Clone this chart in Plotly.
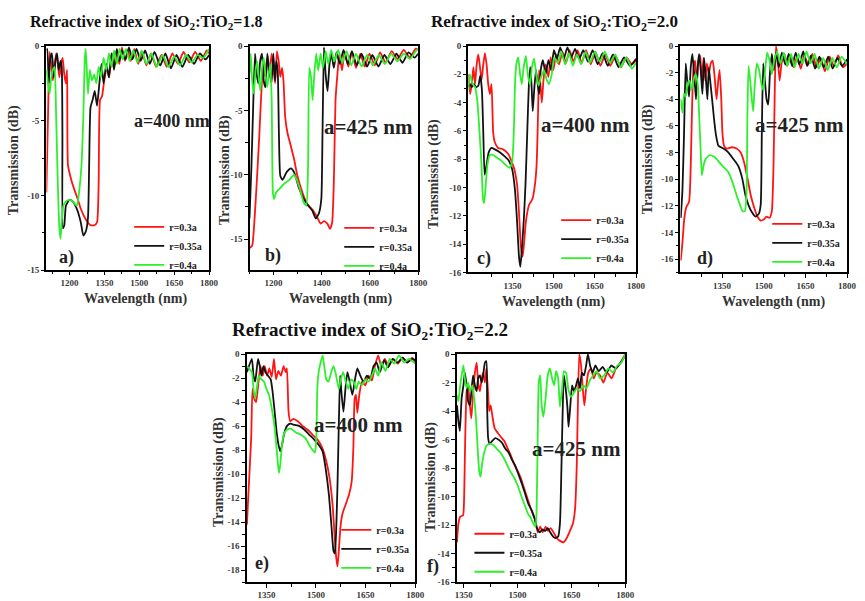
import plotly.graph_objects as go

W, H = 865, 601
FONT = "Liberation Serif, Times New Roman, serif"

# ---------------- data (wavelength nm, transmission dB) ----------------
series_names = ["r=0.3a", "r=0.35a", "r=0.4a"]
series_colors = ["#ff1414", "#121212", "#2cf02c"]

# (a) SiO2:TiO2 = 1.8, a = 400 nm
a_red = [(1100,-9.8),(1107,-4.7),(1114,-0.4),(1121,-1.2),(1128,-2.3),(1135,-1.4),(1142,-0.5),(1149,-1.2),(1156,-2.1),(1163,-1.2),(1170,-0.8),(1177,-1.9),(1184,-2.5),(1189,-1.6),(1193,-8.0),(1206,-8.9),(1220,-9.6),(1234,-10.2),(1248,-10.9),(1269,-11.6),(1290,-12.0),(1307,-12.0),(1318,-11.8),(1325,-9.1),(1331,-3.6),(1339,-3.4),(1349,-2.3),(1360,-1.4),(1370,-2.1),(1382,-0.5),(1391,-1.4),(1403,-0.3),(1414,-1.2),(1425,-0.1),(1438,-1.0),(1450,-0.3),(1463,-1.0),(1478,-0.2),(1495,-1.2),(1512,-0.4),(1530,-1.3),(1550,-0.5),(1572,-1.4),(1595,-0.6),(1618,-1.4),(1642,-0.5),(1666,-1.2),(1690,-0.4),(1715,-1.1),(1740,-0.4),(1765,-1.0),(1790,-0.3),(1800,-0.5)]
a_black = [(1100,-0.3),(1104,-0.2),(1110,-2.5),(1117,-0.8),(1124,-0.5),(1132,-2.1),(1139,-1.0),(1146,-0.5),(1153,-1.6),(1161,-1.0),(1166,-1.4),(1169,-5.9),(1171,-12.2),(1177,-12.0),(1184,-10.7),(1199,-10.3),(1213,-10.4),(1231,-10.9),(1248,-11.8),(1259,-12.7),(1270,-12.4),(1279,-11.5),(1284,-8.0),(1290,-4.1),(1299,-3.6),(1308,-3.0),(1318,-4.0),(1328,-2.5),(1337,-1.2),(1346,-2.5),(1358,-1.2),(1369,-2.1),(1380,-0.5),(1391,-1.6),(1403,-0.2),(1414,-1.0),(1425,-0.3),(1440,-0.9),(1455,-0.1),(1470,-0.9),(1488,-0.2),(1505,-1.0),(1525,-0.3),(1545,-1.2),(1565,-0.4),(1590,-1.3),(1612,-0.5),(1636,-1.5),(1660,-0.6),(1685,-1.4),(1710,-0.6),(1735,-1.2),(1760,-0.5),(1785,-0.9),(1800,-0.6)]
a_green = [(1100,-1.6),(1107,-2.5),(1114,-3.2),(1121,-2.1),(1128,-1.6),(1135,-1.4),(1142,-4.7),(1149,-9.1),(1156,-12.2),(1161,-12.9),(1166,-11.8),(1173,-10.7),(1184,-10.4),(1199,-10.3),(1213,-10.4),(1231,-10.7),(1242,-9.6),(1251,-8.0),(1259,-4.7),(1265,-1.0),(1269,-0.2),(1273,-1.2),(1279,-3.2),(1287,-1.6),(1296,-2.3),(1306,-1.9),(1315,-2.5),(1325,-1.4),(1335,-2.1),(1346,-0.8),(1358,-1.6),(1369,-0.5),(1380,-1.4),(1391,-0.3),(1403,-1.2),(1415,-0.2),(1428,-0.9),(1442,-0.2),(1458,-1.0),(1474,-0.3),(1492,-1.1),(1510,-0.3),(1530,-1.2),(1552,-0.5),(1575,-1.4),(1600,-0.6),(1625,-1.4),(1650,-0.7),(1675,-1.3),(1700,-0.6),(1725,-1.1),(1750,-0.6),(1775,-0.8),(1800,-0.2)]

# (b) SiO2:TiO2 = 1.8, a = 425 nm
b_red = [(1100,-15.7),(1111,-15.5),(1121,-13.4),(1130,-10.6),(1141,-6.8),(1151,-2.9),(1158,-1.4),(1165,-2.4),(1173,-0.9),(1182,-2.2),(1192,-0.6),(1199,-1.7),(1206,-2.9),(1214,-0.4),(1221,-1.2),(1228,-2.4),(1235,-1.7),(1241,-2.7),(1248,-5.5),(1258,-6.8),(1272,-7.8),(1285,-8.8),(1299,-10.1),(1320,-11.4),(1340,-12.3),(1361,-12.7),(1381,-13.3),(1395,-13.8),(1409,-13.6),(1423,-13.8),(1434,-14.2),(1443,-13.7),(1450,-10.6),(1457,-4.2),(1464,-2.4),(1473,-0.6),(1484,-1.9),(1495,-0.4),(1510,-1.6),(1525,-0.5),(1542,-1.7),(1560,-0.6),(1578,-1.6),(1598,-0.6),(1620,-1.5),(1642,-0.5),(1665,-1.3),(1690,-0.4),(1715,-1.0),(1740,-0.3),(1765,-0.9),(1790,-0.2),(1800,-0.3)]
b_black = [(1100,-13.4),(1108,-9.3),(1116,-4.2),(1123,-0.6),(1130,-2.2),(1137,-2.9),(1144,-1.2),(1152,-0.6),(1159,-2.7),(1166,-3.2),(1174,-0.6),(1182,-1.9),(1191,-2.9),(1199,-0.6),(1206,-2.7),(1211,-1.2),(1217,-1.9),(1222,-6.8),(1228,-10.1),(1237,-10.4),(1254,-9.8),(1272,-9.5),(1285,-9.8),(1303,-10.9),(1326,-11.9),(1344,-12.4),(1361,-12.8),(1375,-13.4),(1388,-13.0),(1398,-11.9),(1403,-6.8),(1409,-0.1),(1416,-2.2),(1424,-3.5),(1432,-1.4),(1440,-0.6),(1450,-1.7),(1461,-0.5),(1475,-1.4),(1490,-0.3),(1508,-1.4),(1525,-0.4),(1545,-1.5),(1565,-0.6),(1588,-1.6),(1610,-0.7),(1635,-1.6),(1660,-0.7),(1685,-1.4),(1710,-0.6),(1735,-1.3),(1760,-0.5),(1785,-0.9),(1800,-0.6)]
b_green = [(1100,-2.2),(1105,-0.6),(1111,-2.7),(1118,-3.7),(1125,-1.9),(1132,-1.2),(1138,-2.4),(1145,-3.5),(1152,-1.7),(1159,-0.9),(1166,-2.2),(1173,-3.2),(1180,-2.2),(1186,-1.4),(1192,-4.2),(1197,-11.4),(1202,-11.9),(1210,-11.4),(1224,-11.1),(1244,-10.7),(1265,-10.4),(1285,-10.0),(1296,-10.4),(1309,-11.1),(1324,-12.1),(1336,-12.4),(1343,-9.3),(1348,-1.7),(1355,-2.4),(1362,-4.2),(1369,-2.2),(1377,-0.6),(1385,-1.9),(1395,-0.6),(1405,-1.7),(1416,-0.4),(1427,-1.4),(1439,-0.3),(1452,-1.2),(1468,-0.3),(1485,-1.3),(1503,-0.4),(1522,-1.5),(1542,-0.6),(1565,-1.6),(1588,-0.7),(1612,-1.5),(1637,-0.7),(1662,-1.4),(1688,-0.6),(1714,-1.2),(1740,-0.6),(1766,-1.0),(1790,-0.4),(1800,-0.2)]

# (c) SiO2:TiO2 = 2.0, a = 400 nm
c_red = [(1190,-2.0),(1196,-3.4),(1202,-2.7),(1208,-1.5),(1214,-2.7),(1220,-1.3),(1226,-0.6),(1232,-1.5),(1238,-2.4),(1244,-1.3),(1250,-0.5),(1256,-1.3),(1262,-2.7),(1268,-3.4),(1274,-2.7),(1280,-6.1),(1286,-6.8),(1298,-7.2),(1316,-7.3),(1334,-7.6),(1346,-8.1),(1357,-8.7),(1367,-9.8),(1375,-12.1),(1381,-14.2),(1387,-14.9),(1393,-13.8),(1399,-12.4),(1411,-11.2),(1423,-10.8),(1432,-9.8),(1438,-8.4),(1443,-5.0),(1447,-1.7),(1452,-2.7),(1457,-4.0),(1463,-2.4),(1471,-1.3),(1481,-2.2),(1489,-0.8),(1499,-1.7),(1509,-0.6),(1520,-1.3),(1532,-0.4),(1545,-1.2),(1558,-0.3),(1572,-1.1),(1587,-0.3),(1602,-1.2),(1618,-0.3),(1635,-1.3),(1652,-0.4),(1670,-1.4),(1688,-0.6),(1706,-1.4),(1725,-0.7),(1745,-1.5),(1765,-0.8),(1785,-1.3),(1800,-1.0)]
c_black = [(1190,-2.9),(1196,-2.7),(1202,-2.9),(1210,-2.7),(1218,-2.9),(1226,-2.8),(1233,-2.1),(1239,-3.1),(1244,-6.1),(1249,-9.1),(1256,-8.4),(1264,-7.5),(1274,-7.2),(1286,-7.3),(1304,-7.5),(1322,-7.8),(1337,-8.1),(1349,-8.7),(1359,-10.1),(1367,-12.4),(1374,-14.9),(1379,-15.6),(1385,-14.2),(1392,-12.1),(1398,-9.6),(1404,-6.1),(1410,-2.7),(1415,-1.5),(1420,-2.9),(1424,-4.6),(1430,-2.9),(1436,-1.7),(1442,-2.7),(1447,-3.4),(1453,-1.7),(1461,-1.0),(1471,-2.0),(1481,-1.0),(1491,-1.7),(1501,-0.3),(1512,-0.9),(1524,-0.1),(1537,-0.9),(1550,-0.1),(1564,-0.8),(1578,-0.2),(1593,-0.9),(1608,-0.3),(1625,-1.1),(1642,-0.3),(1660,-1.3),(1678,-0.5),(1697,-1.4),(1716,-0.6),(1736,-1.5),(1756,-0.8),(1778,-1.4),(1800,-0.9)]
c_green = [(1190,-3.1),(1194,-2.0),(1198,-2.2),(1206,-2.7),(1214,-2.9),(1222,-3.8),(1229,-5.7),(1237,-8.2),(1243,-10.8),(1247,-11.1),(1252,-10.1),(1259,-8.4),(1268,-7.7),(1280,-7.7),(1294,-7.9),(1310,-8.1),(1325,-8.4),(1340,-8.6),(1349,-8.2),(1355,-6.1),(1360,-2.4),(1365,-1.2),(1371,-0.8),(1378,-2.0),(1384,-2.7),(1391,-1.5),(1399,-0.7),(1406,-2.0),(1414,-2.7),(1421,-1.5),(1429,-0.9),(1438,-2.2),(1445,-2.8),(1454,-2.2),(1465,-1.7),(1475,-2.4),(1483,-2.7),(1493,-2.0),(1502,-0.8),(1515,-1.2),(1528,-0.4),(1542,-1.3),(1556,-0.5),(1570,-1.4),(1585,-0.6),(1600,-1.3),(1616,-0.4),(1632,-1.2),(1650,-0.4),(1668,-1.1),(1686,-0.4),(1705,-1.2),(1724,-0.6),(1744,-1.5),(1765,-0.8),(1785,-1.6),(1800,-1.2)]

# (d) SiO2:TiO2 = 2.0, a = 425 nm
d_red = [(1201,-16.1),(1207,-14.8),(1214,-12.9),(1221,-12.1),(1231,-11.7),(1237,-9.0),(1241,-5.3),(1247,-1.6),(1253,-1.1),(1259,-2.8),(1265,-1.1),(1271,-0.7),(1277,-2.6),(1283,-0.9),(1289,-2.6),(1295,-1.3),(1302,-2.1),(1309,-1.3),(1316,-1.1),(1323,-2.3),(1330,-4.0),(1336,-2.6),(1341,-1.8),(1347,-4.0),(1351,-6.5),(1357,-7.5),(1367,-7.7),(1385,-7.6),(1402,-7.7),(1417,-8.0),(1430,-8.8),(1441,-9.9),(1453,-11.2),(1465,-12.1),(1477,-12.8),(1489,-13.1),(1501,-13.0),(1510,-12.8),(1521,-12.9),(1529,-12.4),(1535,-9.0),(1540,-2.8),(1544,0.0),(1550,-0.9),(1557,-2.6),(1564,-1.3),(1574,-0.6),(1584,-1.5),(1595,-0.7),(1607,-1.6),(1620,-0.8),(1633,-1.7),(1646,-0.7),(1660,-1.4),(1675,-0.6),(1690,-1.6),(1705,-0.9),(1720,-1.9),(1737,-0.8),(1752,-1.5),(1768,-0.7),(1785,-1.6),(1800,-1.3)]
d_black = [(1201,-12.9),(1207,-10.9),(1213,-6.5),(1219,-1.3),(1225,-2.8),(1231,-3.8),(1237,-1.6),(1243,-0.6),(1250,-2.3),(1256,-4.0),(1262,-1.6),(1267,-0.6),(1273,-1.8),(1279,-3.6),(1285,-0.9),(1291,-2.3),(1297,-4.0),(1302,-1.6),(1308,-2.8),(1314,-4.0),(1321,-5.5),(1328,-6.7),(1337,-7.5),(1355,-7.7),(1373,-8.0),(1391,-8.5),(1408,-9.0),(1422,-9.9),(1434,-11.2),(1446,-12.0),(1458,-12.5),(1470,-12.8),(1482,-12.6),(1489,-11.9),(1493,-6.5),(1498,-1.3),(1504,-2.6),(1510,-4.0),(1516,-4.4),(1522,-2.1),(1529,-0.6),(1536,-1.8),(1544,-0.5),(1554,-1.6),(1565,-0.5),(1578,-1.4),(1590,-0.6),(1602,-1.5),(1615,-0.5),(1628,-1.4),(1642,-0.4),(1656,-1.5),(1670,-0.7),(1685,-1.7),(1700,-0.8),(1716,-1.6),(1732,-0.8),(1748,-1.7),(1765,-0.9),(1782,-1.5),(1800,-1.0)]
d_green = [(1201,-4.0),(1207,-5.0),(1213,-3.6),(1219,-3.8),(1226,-2.8),(1233,-2.6),(1240,-3.3),(1247,-2.6),(1254,-2.1),(1262,-2.8),(1267,-5.0),(1272,-7.5),(1277,-9.7),(1283,-9.0),(1290,-8.5),(1304,-8.2),(1320,-8.3),(1335,-8.6),(1351,-9.0),(1370,-9.4),(1387,-10.2),(1402,-11.2),(1414,-11.9),(1424,-12.4),(1432,-12.4),(1438,-10.9),(1441,-5.3),(1445,-1.5),(1451,-2.6),(1457,-4.0),(1462,-4.9),(1467,-3.1),(1475,-1.3),(1483,-1.8),(1491,-2.8),(1498,-3.3),(1505,-1.8),(1512,-0.5),(1521,-1.1),(1529,-2.1),(1538,-1.1),(1548,-0.4),(1560,-1.3),(1572,-0.5),(1585,-1.5),(1598,-0.6),(1611,-1.6),(1625,-0.6),(1640,-1.3),(1654,-0.4),(1668,-1.3),(1683,-0.6),(1698,-1.7),(1714,-0.9),(1730,-1.8),(1747,-0.9),(1763,-1.6),(1780,-0.8),(1800,-1.4)]

# (e) SiO2:TiO2 = 2.2, a = 400 nm
e_red = [(1291,-14.2),(1304,-7.0),(1308,-2.9),(1313,-3.7),(1319,-4.0),(1325,-2.6),(1332,-1.0),(1339,-1.8),(1345,-1.0),(1352,-1.8),(1359,-1.2),(1366,-1.9),(1373,-0.4),(1379,-2.1),(1386,-1.4),(1394,-1.8),(1402,-1.0),(1408,-1.5),(1412,-1.2),(1417,-4.8),(1422,-5.6),(1431,-5.4),(1445,-5.6),(1460,-6.0),(1475,-6.3),(1489,-6.7),(1504,-7.1),(1519,-7.8),(1531,-8.9),(1541,-10.3),(1550,-12.5),(1556,-15.0),(1561,-16.9),(1565,-17.7),(1569,-16.4),(1574,-14.4),(1580,-13.3),(1590,-12.5),(1600,-11.7),(1608,-10.6),(1613,-7.8),(1617,-3.7),(1621,-3.4),(1625,-4.9),(1631,-3.4),(1639,-2.3),(1649,-2.6),(1659,-1.8),(1669,-2.2),(1678,-1.0),(1688,-0.1),(1698,-1.1),(1708,-0.4),(1720,-1.0),(1732,-0.4),(1747,-0.8),(1762,-0.3),(1776,-0.7),(1791,-0.3),(1800,-0.7)]
e_black = [(1291,-1.5),(1306,-0.4),(1311,-1.8),(1316,-2.3),(1321,-1.2),(1325,-0.4),(1330,-1.0),(1335,-1.8),(1341,-1.0),(1347,-1.5),(1355,-1.8),(1363,-2.1),(1369,-3.2),(1375,-4.8),(1381,-6.5),(1387,-7.6),(1392,-8.1),(1397,-7.6),(1404,-6.6),(1412,-6.0),(1422,-5.8),(1435,-5.9),(1450,-6.0),(1465,-6.3),(1479,-6.7),(1494,-7.1),(1509,-7.6),(1520,-8.1),(1529,-9.5),(1539,-11.7),(1547,-14.4),(1553,-16.4),(1557,-16.6),(1561,-14.7),(1565,-10.9),(1569,-5.9),(1573,-1.8),(1577,-3.2),(1583,-4.8),(1589,-2.9),(1595,-1.5),(1602,-2.3),(1610,-3.4),(1618,-2.1),(1625,-1.2),(1634,-1.8),(1644,-2.3),(1654,-1.8),(1664,-2.1),(1674,-1.0),(1683,-0.7),(1693,-1.5),(1706,-0.5),(1718,-1.1),(1732,-0.4),(1747,-0.7),(1762,-0.3),(1776,-0.7),(1791,-0.4),(1800,-0.5)]
e_green = [(1291,-1.0),(1306,-1.5),(1311,-2.9),(1316,-3.7),(1322,-2.6),(1327,-1.8),(1335,-2.1),(1343,-2.3),(1350,-2.9),(1358,-3.4),(1366,-4.5),(1374,-5.9),(1380,-7.6),(1385,-9.2),(1388,-9.9),(1392,-9.2),(1397,-7.6),(1404,-6.6),(1412,-6.3),(1424,-6.2),(1438,-6.5),(1453,-6.7),(1468,-7.0),(1480,-7.6),(1490,-8.0),(1497,-8.2),(1501,-7.0),(1504,-2.9),(1508,-1.5),(1514,-0.7),(1520,-0.1),(1525,-1.0),(1531,-2.1),(1538,-2.3),(1546,-1.5),(1553,-1.0),(1561,-1.8),(1569,-2.9),(1575,-2.1),(1582,-1.5),(1590,-2.3),(1598,-2.9),(1606,-2.1),(1614,-2.3),(1622,-2.9),(1629,-2.3),(1639,-2.6),(1649,-2.1),(1659,-2.3),(1669,-1.8),(1678,-1.2),(1688,-1.8),(1698,-0.7),(1710,-1.4),(1723,-0.4),(1737,-0.8),(1751,-0.1),(1767,-0.7),(1781,-0.4),(1800,-0.8)]

# (f) SiO2:TiO2 = 2.2, a = 425 nm
f_red = [(1331,-13.2),(1335,-11.9),(1340,-11.4),(1348,-11.3),(1351,-10.0),(1354,-5.9),(1358,-2.6),(1362,-2.2),(1367,-3.6),(1371,-4.5),(1375,-3.1),(1381,-1.3),(1386,-0.6),(1390,-2.0),(1395,-2.6),(1400,-1.7),(1404,-1.3),(1409,-2.0),(1413,-1.0),(1417,-2.4),(1421,-4.0),(1425,-3.6),(1430,-4.4),(1436,-5.2),(1444,-5.5),(1453,-5.8),(1463,-6.1),(1472,-6.6),(1481,-7.1),(1490,-7.7),(1500,-8.2),(1509,-8.7),(1518,-9.4),(1527,-10.1),(1535,-10.7),(1542,-11.2),(1550,-11.7),(1556,-12.5),(1563,-12.1),(1570,-12.5),(1578,-12.1),(1585,-12.4),(1592,-12.2),(1600,-12.5),(1609,-12.9),(1618,-13.1),(1628,-13.2),(1637,-12.9),(1646,-12.4),(1654,-11.9),(1660,-10.9),(1665,-7.7),(1668,-3.6),(1672,0.0),(1677,-0.8),(1681,-2.2),(1686,-3.6),(1691,-2.4),(1697,-1.3),(1705,-1.0),(1712,-1.7),(1720,-1.3),(1730,-1.5),(1739,-2.0),(1750,-1.3),(1762,-1.7),(1774,-1.0),(1787,-0.6),(1800,0.0)]
f_black = [(1331,-3.6),(1335,-4.7),(1339,-5.4),(1344,-3.1),(1349,-2.2),(1353,-1.3),(1358,-2.2),(1362,-3.3),(1367,-3.6),(1372,-2.4),(1376,-1.5),(1381,-2.2),(1386,-2.6),(1390,-1.7),(1395,-1.5),(1400,-2.0),(1404,-1.5),(1409,-0.6),(1413,-0.5),(1415,-3.6),(1418,-5.9),(1422,-6.3),(1429,-6.1),(1438,-5.9),(1447,-6.0),(1456,-6.2),(1465,-6.6),(1475,-6.9),(1484,-7.4),(1493,-7.8),(1502,-8.4),(1512,-9.1),(1521,-9.8),(1530,-10.5),(1540,-11.0),(1547,-11.5),(1554,-12.2),(1562,-12.5),(1569,-12.3),(1577,-12.4),(1584,-12.2),(1591,-12.5),(1599,-12.8),(1606,-12.9),(1613,-12.8),(1618,-11.9),(1622,-8.2),(1626,-3.6),(1629,-1.5),(1634,-2.4),(1639,-3.8),(1642,-5.1),(1647,-3.6),(1652,-2.2),(1657,-2.6),(1663,-2.2),(1668,-1.7),(1674,-2.4),(1679,-1.3),(1685,-1.5),(1691,-0.8),(1696,0.0),(1702,-0.8),(1709,-1.3),(1717,-0.8),(1726,-1.2),(1737,-0.9),(1748,-1.3),(1761,-0.8),(1774,-1.0),(1787,-0.6),(1800,-0.1)]
f_green = [(1331,-2.9),(1335,-3.3),(1339,-2.4),(1344,-1.5),(1349,-0.8),(1353,-1.7),(1358,-2.4),(1362,-2.0),(1368,-2.6),(1374,-2.2),(1379,-3.1),(1384,-4.5),(1388,-6.3),(1393,-8.2),(1397,-8.6),(1401,-7.7),(1407,-6.9),(1414,-6.4),(1424,-6.3),(1433,-6.4),(1444,-6.7),(1455,-7.0),(1466,-7.5),(1477,-8.1),(1489,-8.6),(1500,-9.2),(1511,-10.0),(1520,-10.6),(1529,-11.2),(1537,-11.5),(1544,-11.9),(1550,-12.1),(1553,-10.9),(1556,-5.9),(1559,-2.0),(1563,-1.5),(1567,-3.6),(1572,-4.4),(1578,-3.1),(1584,-1.5),(1590,-1.0),(1596,-1.7),(1602,-2.2),(1607,-1.2),(1613,-1.7),(1618,-3.7),(1624,-2.4),(1629,-1.2),(1635,-1.3),(1641,-2.4),(1648,-3.0),(1655,-2.8),(1665,-2.4),(1674,-2.6),(1683,-2.2),(1692,-2.4),(1702,-1.8),(1711,-1.5),(1720,-1.2),(1730,-1.7),(1741,-1.5),(1753,-1.0),(1765,-1.3),(1778,-0.8),(1789,-0.6),(1800,0.0)]

# axis ticks
xt_a = [1200, 1350, 1500, 1650, 1800]
xt_b = [1200, 1400, 1600, 1800]
xt_cf = [1350, 1500, 1650, 1800]
yt_ab = [0, -5, -10, -15]
yt_cdf = [0, -2, -4, -6, -8, -10, -12, -14, -16]
yt_e = [0, -2, -4, -6, -8, -10, -12, -14, -16, -18]

# text
titles = ["Refractive index of SiO<sub>2</sub>:TiO<sub>2</sub>=1.8",
          "Refractive index of SiO<sub>2</sub>:TiO<sub>2</sub>=2.0",
          "Refractive index of SiO<sub>2</sub>:TiO<sub>2</sub>=2.2"]
lattice_labels = ["a=400 nm", "a=425 nm", "a=400 nm", "a=425 nm", "a=400 nm", "a=425 nm"]
panel_labels = ["a)", "b)", "c)", "d)", "e)", "f)"]

# ---------------- layout helpers (pixel -> paper) ----------------
def px(x):
    return x / W

def py(y):
    return 1 - y / H

def minors(vals, lo, hi):
    s = sorted(vals)
    step = s[1] - s[0]
    out = [s[0] - step / 2] + [v + step / 2 for v in s]
    return [m for m in out if lo <= m <= hi]

panels = [
    dict(data=[a_red, a_black, a_green], xr=[1100, 1800], yr=[-15, 0], xt=xt_a, yt=yt_ab,
         dom=(45, 210, 41.7, 269.5), ytitle=(13, 158), xtitle=(135, 299),
         lab=(172, 118, 18), plab=(65, 257), leg=(129, 245)),
    dict(data=[b_red, b_black, b_green], xr=[1100, 1800], yr=[-17.4, 0], xt=xt_b, yt=yt_ab,
         dom=(251, 422, 41.7, 269.5), ytitle=(226, 168), xtitle=(343, 299),
         lab=(372, 124, 21), plab=(275, 255), leg=(342, 246)),
    dict(data=[c_red, c_black, c_green], xr=[1190, 1800], yr=[-16, 0], xt=xt_cf, yt=yt_cdf,
         dom=(473, 643, 41.7, 272), ytitle=(438, 172), xtitle=(559, 302),
         lab=(592, 122, 21), plab=(489, 258), leg=(562, 238)),
    dict(data=[d_red, d_black, d_green], xr=[1200, 1800], yr=[-17, 0], xt=xt_cf, yt=yt_cdf,
         dom=(688, 857, 41.7, 272), ytitle=(655, 157), xtitle=(782, 302),
         lab=(809, 122, 21), plab=(713, 258), leg=(776, 242)),
    dict(data=[e_red, e_black, e_green], xr=[1290, 1800], yr=[-19, 0], xt=xt_cf, yt=yt_e,
         dom=(248, 419, 355, 587), ytitle=(220, 475), xtitle=None,
         lab=(362, 427, 21), plab=(264, 568), leg=(339, 553)),
    dict(data=[f_red, f_black, f_green], xr=[1330, 1800], yr=[-16, 0], xt=xt_cf, yt=yt_cdf,
         dom=(461, 632, 355, 587), ytitle=(435, 480), xtitle=None,
         lab=(583, 452, 21), plab=(437, 571), leg=(474, 557)),
]

fig = go.Figure()
layout = dict(width=W, height=H, margin=dict(l=0, r=0, t=0, b=0),
              paper_bgcolor="white", plot_bgcolor="white", showlegend=True)
annotations = []
tickfont = dict(family=FONT, size=9, color="#3a3a3a", weight="bold")

for i, p in enumerate(panels):
    n = i + 1
    xa = "x" if n == 1 else f"x{n}"
    ya = "y" if n == 1 else f"y{n}"
    lg = "legend" if n == 1 else f"legend{n}"
    for k, ser in enumerate(p["data"]):
        fig.add_trace(go.Scatter(
            x=[v[0] for v in ser], y=[v[1] for v in ser],
            mode="lines", name=series_names[k],
            line=dict(color=series_colors[k], width=1.8, shape="spline", smoothing=0.5),
            xaxis=xa, yaxis=ya, legend=lg, showlegend=True))
    x0, x1, y0, y1 = p["dom"]
    axcommon = dict(showline=True, linecolor="black", linewidth=1.6, mirror=True,
                    ticks="outside", ticklen=3.5, tickwidth=1.2, tickcolor="black",
                    showgrid=False, zeroline=False, tickfont=tickfont)
    layout["xaxis" if n == 1 else f"xaxis{n}"] = dict(
        domain=[px(x0), px(x1)], anchor=ya, range=p["xr"],
        tickmode="array", tickvals=p["xt"], ticktext=[str(v) for v in p["xt"]],
        minor=dict(ticks="outside", ticklen=2.5, tickcolor="black", tickwidth=1,
                   tickmode="array", tickvals=minors(p["xt"], p["xr"][0], p["xr"][1])),
        **axcommon)
    layout["yaxis" if n == 1 else f"yaxis{n}"] = dict(
        domain=[py(y1), py(y0)], anchor=xa, range=p["yr"],
        tickmode="array", tickvals=p["yt"], ticktext=[f"{v:g}" for v in p["yt"]],
        minor=dict(ticks="outside", ticklen=2.5, tickcolor="black", tickwidth=1,
                   tickmode="array", tickvals=minors(p["yt"], p["yr"][0], p["yr"][1])),
        **axcommon)
    lx, ly = p["leg"]
    layout[lg] = dict(x=px(lx), y=py(ly), xanchor="left", yanchor="middle",
                      bgcolor="rgba(0,0,0,0)", borderwidth=0, itemwidth=30,
                      tracegroupgap=0, traceorder="normal",
                      font=dict(family=FONT, size=10, color="#222", weight="bold"))
    tx, ty = p["ytitle"]
    annotations.append(dict(text="Transmission (dB)", x=px(tx), y=py(ty), xref="paper", yref="paper",
                            showarrow=False, textangle=-90, xanchor="center", yanchor="middle",
                            font=dict(family=FONT, size=14, color="#333", weight="bold")))
    if p["xtitle"]:
        tx, ty = p["xtitle"]
        annotations.append(dict(text="Wavelength (nm)", x=px(tx), y=py(ty), xref="paper", yref="paper",
                                showarrow=False, xanchor="center", yanchor="middle",
                                font=dict(family=FONT, size=14, color="#333", weight="bold")))
    lx, ly, ls = p["lab"]
    annotations.append(dict(text=lattice_labels[i], x=px(lx), y=py(ly), xref="paper", yref="paper",
                            showarrow=False, xanchor="center", yanchor="middle",
                            font=dict(family=FONT, size=ls, color="#222", weight="bold")))
    lx, ly = p["plab"]
    annotations.append(dict(text=panel_labels[i], x=px(lx), y=py(ly), xref="paper", yref="paper",
                            showarrow=False, xanchor="center", yanchor="middle",
                            font=dict(family=FONT, size=18, color="#222", weight="bold")))

title_pos = [(146, 18, 16), (560, 18, 17), (373, 332, 19)]
for t, (tx, ty, ts) in zip(titles, title_pos):
    annotations.append(dict(text=t, x=px(tx), y=py(ty), xref="paper", yref="paper",
                            showarrow=False, xanchor="center", yanchor="middle",
                            font=dict(family=FONT, size=ts, color="#111", weight="bold")))

layout["annotations"] = annotations
fig.update_layout(**layout)
fig.write_html("out.html")
